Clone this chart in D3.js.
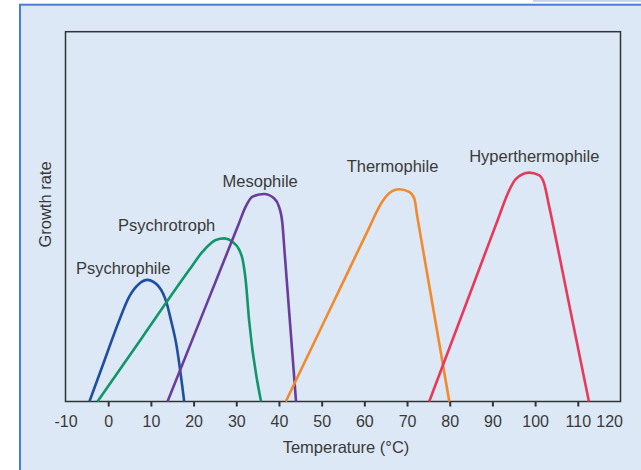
<!DOCTYPE html>
<html>
<head>
<meta charset="utf-8">
<script src="https://cdn.jsdelivr.net/npm/d3@7"></script>
<style>
  html, body { margin: 0; padding: 0; background: #ffffff; }
  svg { display: block; }
  text { font-family: "Liberation Sans", Arial, Helvetica, sans-serif; fill: #3a3a3a; }
</style>
</head>
<body>
<svg id="chart" width="641" height="470"></svg>
<script>
// ---------- data (temperature °C, relative growth rate) ----------
const seriesNames = ["Psychrophile", "Psychrotroph", "Mesophile", "Thermophile", "Hyperthermophile"];
const psychrophile = [[-4.4,0],[-1,10.7],[2.6,22],[4.9,28.3],[7.2,31.8],[9.2,32.9],[11.9,31],[13.7,26.6],[14.7,22],[15.9,15.8],[17.8,0]];
const psychrotroph = [[-2.5,0],[8,17.4],[19,35.6],[22.1,40.5],[25.2,43.7],[27.2,44.1],[29.1,43.2],[30.7,41],[31.5,38.3],[32.2,32.8],[33,22],[35.8,0]];
const mesophile = [[13.9,0],[23,26.2],[30.5,47.8],[32.2,52.7],[33.8,55.4],[36.5,56.1],[38.9,54.9],[40,52.7],[40.8,48.2],[41.3,40.7],[42.4,24.1],[44,0]];
const thermophile = [[41.6,0],[52,25],[61.5,47.9],[63.5,52.7],[65.8,56.3],[68.1,57.4],[70.5,56.7],[71.7,54.9],[72.4,50],[76.2,24.7],[79.9,0]];
const hyperthermophile = [[75.2,0],[84,26.9],[91.5,49.9],[93.5,56],[95.5,60.2],[98.6,61.9],[100.9,61.2],[102.1,59],[103.3,52.7],[108,26.1],[112.6,0]];
// label anchor (temperature, growth) for each series name
const labelAnchors = [[3.5,34.6],[13.7,46.0],[35.6,58.0],[66.6,62.1],[99.8,64.8]];
const xTicks = [-10,0,10,20,30,40,50,60,70,80,90,100,110,120];
const xTitle = "Temperature (°C)";
const yTitle = "Growth rate";

// ---------- styles ----------
const colors = ["#1f4fa0", "#11956a", "#6a3d9c", "#f28a2c", "#e8395b"];

const svg = d3.select("#chart");

// panel
svg.append("rect").attr("x", 533).attr("y", 0).attr("width", 108).attr("height", 2).attr("fill", "#c6d6ef");
svg.append("rect").attr("x", 20).attr("y", 4.7).attr("width", 660).attr("height", 500)
  .attr("fill", "#dce8f5").attr("stroke", "#4b7dd6").attr("stroke-width", 2);

const x = d3.scaleLinear().domain([-10, 120]).range([65.5, 620.5]);
const y = d3.scaleLinear().domain([0, 100]).range([401.5, 31.7]);

// frame
svg.append("rect")
  .attr("x", x(-10)).attr("y", y(100))
  .attr("width", x(120) - x(-10)).attr("height", y(0) - y(100))
  .attr("fill", "none").attr("stroke", "#2f3438").attr("stroke-width", 1.5);

// x axis
const axis = svg.append("g").attr("transform", `translate(0,${y(0)})`)
  .call(d3.axisBottom(x).tickValues(xTicks).tickSize(5).tickPadding(9).tickFormat(d => String(d)));
axis.select(".domain").remove();
axis.selectAll(".tick line").attr("stroke", "#2f3438").attr("stroke-width", 2)
  .attr("opacity", d => (d === -10 || d === 120) ? 0 : 1);
axis.selectAll(".tick text").attr("fill", "#3a3a3a").style("font-size", "16px")
  .style("font-family", '"Liberation Sans", Arial, sans-serif');
axis.selectAll(".tick").filter(d => d === 120).select("text")
  .attr("text-anchor", "end").attr("x", 2);

// titles
svg.append("text").attr("x", 346).attr("y", 453).attr("text-anchor", "middle")
  .style("font-size", "16.5px").text(xTitle);
svg.append("text").attr("transform", "translate(51,204.5) rotate(-90)").attr("text-anchor", "middle")
  .style("font-size", "16.5px").text(yTitle);

// curves
const line = d3.line().x(d => x(d[0])).y(d => y(d[1])).curve(d3.curveMonotoneX);
const allSeries = [psychrophile, psychrotroph, mesophile, thermophile, hyperthermophile];
allSeries.forEach((s, i) => {
  svg.append("path").datum(s).attr("d", line)
    .attr("fill", "none").attr("stroke", colors[i]).attr("stroke-width", 2.6)
    .attr("stroke-linejoin", "round").attr("stroke-linecap", "butt");
});

// labels
seriesNames.forEach((n, i) => {
  svg.append("text").attr("x", x(labelAnchors[i][0])).attr("y", y(labelAnchors[i][1]))
    .attr("text-anchor", "middle").style("font-size", "16.5px").text(n);
});
</script>
</body>
</html>
